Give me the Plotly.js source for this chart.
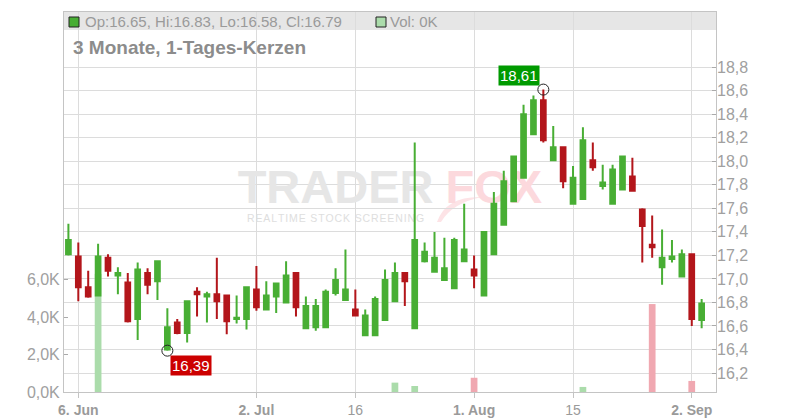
<!DOCTYPE html>
<html><head><meta charset="utf-8">
<script src="https://cdn.plot.ly/plotly-3.0.1.min.js"></script>
<style>html,body{margin:0;padding:0;background:#fff}#chart{width:800px;height:420px}</style>
</head><body><div id="chart"></div>
<script>
const dates = ['2025-06-05','2025-06-06','2025-06-09','2025-06-10','2025-06-11','2025-06-12','2025-06-13','2025-06-16','2025-06-17','2025-06-18',
'2025-06-19','2025-06-20','2025-06-23','2025-06-24','2025-06-25','2025-06-26','2025-06-27','2025-06-30','2025-07-01','2025-07-02',
'2025-07-03','2025-07-04','2025-07-07','2025-07-08','2025-07-09','2025-07-10','2025-07-11','2025-07-14','2025-07-15','2025-07-16',
'2025-07-17','2025-07-18','2025-07-21','2025-07-22','2025-07-23','2025-07-24','2025-07-25','2025-07-28','2025-07-29','2025-07-30',
'2025-07-31','2025-08-01','2025-08-04','2025-08-05','2025-08-06','2025-08-07','2025-08-08','2025-08-11','2025-08-12','2025-08-13',
'2025-08-14','2025-08-15','2025-08-18','2025-08-19','2025-08-20','2025-08-21','2025-08-22','2025-08-25','2025-08-26','2025-08-27',
'2025-08-28','2025-08-29','2025-09-01','2025-09-02','2025-09-03'];
const openP = [17.21,17.19,16.93,16.86,17.18,17.03,16.97,16.66,17.05,16.98,
16.40,16.63,16.54,16.89,16.85,16.87,16.86,16.66,16.66,16.91,
16.74,16.85,16.80,17.05,16.58,16.59,16.59,16.88,16.82,16.74,
16.52,16.52,16.65,16.81,17.05,16.58,17.15,17.06,16.99,16.92,
17.15,17.08,16.86,17.21,17.46,17.66,17.86,18.23,18.52,18.01,
18.12,17.64,17.68,18.01,17.79,17.64,17.76,17.87,17.59,17.29,
17.10,17.17,17.02,17.21,16.65];
const highP = [17.47,17.31,17.07,17.30,17.21,17.10,17.05,17.14,17.09,17.15,
16.75,16.66,16.81,16.93,16.89,17.18,16.86,16.86,16.93,17.11,
16.98,16.97,17.15,17.05,16.85,16.83,16.91,17.09,17.25,16.91,
16.74,16.85,17.08,17.14,17.05,18.16,17.31,17.40,17.35,17.35,
17.64,17.20,17.40,17.74,17.92,18.04,18.48,18.56,18.61,18.30,
18.12,17.96,18.29,18.16,17.97,17.97,18.05,18.03,17.60,17.54,
17.42,17.33,17.25,17.21,16.83];
const lowP = [17.20,16.81,16.84,16.85,17.02,16.87,16.63,16.48,16.87,16.82,
16.39,16.53,16.46,16.68,16.63,16.66,16.53,16.62,16.57,16.73,
16.74,16.71,16.80,16.68,16.58,16.56,16.59,16.86,16.82,16.68,
16.52,16.52,16.65,16.81,16.77,16.58,17.14,17.06,16.99,16.92,
17.15,16.92,16.86,17.21,17.46,17.66,17.86,18.23,18.16,18.01,
17.77,17.64,17.68,17.92,17.76,17.64,17.76,17.75,17.14,17.18,
16.95,17.14,17.02,16.60,16.58];
const closeP = [17.33,16.93,16.85,17.19,17.07,17.05,16.64,17.08,16.95,17.15,
16.59,16.54,16.81,16.87,16.87,16.81,16.64,16.67,16.93,16.76,
16.86,16.96,17.03,16.76,16.77,16.77,16.89,16.99,16.91,16.69,
16.69,16.83,16.99,17.05,16.98,17.33,17.23,17.18,17.09,17.33,
17.25,17.03,17.40,17.64,17.83,18.04,18.40,18.52,18.18,18.12,
17.83,17.86,18.18,17.95,17.82,17.93,18.04,17.75,17.45,17.27,
17.18,17.19,17.21,16.66,16.79];
const volume = [0,0,0,6300,0,0,0,0,0,0,
0,0,0,0,0,0,0,0,0,0,
0,0,0,0,0,0,0,0,0,0,
0,0,0,500,0,320,0,0,0,0,
0,760,0,0,0,0,0,0,0,0,
0,0,270,0,0,0,0,0,0,4690,
0,0,0,590,0];
const xTickVals = ['2025-06-06','2025-07-02','2025-07-16','2025-08-01','2025-08-15','2025-09-02'];
const xTickText = ['<b>6. Jun</b>','<b>2. Jul</b>','16','<b>1. Aug</b>','15','<b>2. Sep</b>'];
const priceTicks = [16.2,16.4,16.6,16.8,17.0,17.2,17.4,17.6,17.8,18.0,18.2,18.4,18.6,18.8];
const volTicks = [0,2000,4000,6000];
const volTickText = ['0,0K','2,0K','4,0K','6,0K'];
const titleText = '3 Monate, 1-Tages-Kerzen';
const volLabel = 'Vol: 0K';
const logoWords = ['TRADER', 'FOX', 'REALTIME STOCK SCREENING'];

const GREEN = '#48ae34', RED = '#b3161b';
const VGREEN = '#abdcab', VRED = '#f0a8b1';
const FONT = 'Liberation Sans, Arial, sans-serif';
const GRAY = '#9a9a9a';

const n = dates.length;
const last = n - 1;
let iMax = 0, iMin = 0;
for (let i = 0; i < n; i++) { if (highP[i] > highP[iMax]) iMax = i; if (lowP[i] < lowP[iMin]) iMin = i; }
const comma = v => v.toFixed(2).replace('.', ',');
const headerText = 'Op:' + openP[last].toFixed(2) + ', Hi:' + highP[last].toFixed(2) + ', Lo:' + lowP[last].toFixed(2) + ', Cl:' + closeP[last].toFixed(2);

// pixel helpers for paper placement (plot area 64..716 x 12..392)
const px = p => (p - 64) / 652;
const py = p => (392 - p) / 380;
const volAt = p => (392 - p) / 37.5 * 2000;
const spaced = s => s.split('').join('\u200A');

const traces = [
  { type: 'bar', x: dates, y: volume, xaxis: 'x', yaxis: 'y', width: 0.68,
    marker: { color: dates.map((d, i) => closeP[i] >= openP[i] ? VGREEN : VRED), line: { width: 0 } },
    hoverinfo: 'skip', showlegend: false },
  { type: 'scatter', mode: 'text', xaxis: 'x', yaxis: 'y',
    x: [dates[27], dates[43]], y: [volAt(191), volAt(191)],
    text: ['<b>' + logoWords[0] + '</b>', '<b>' + logoWords[1] + '</b>'],
    textposition: 'middle center',
    textfont: { family: FONT, size: 47, color: ['#e6e6e6', '#fcd9dd'] },
    hoverinfo: 'skip', showlegend: false },
  { type: 'scatter', mode: 'text', xaxis: 'x', yaxis: 'y',
    x: [dates[27]], y: [volAt(219)],
    text: [spaced(logoWords[2])],
    textposition: 'middle center',
    textfont: { family: FONT, size: 10.5, color: '#dedede' },
    hoverinfo: 'skip', showlegend: false },
  { type: 'candlestick', x: dates, open: openP, high: highP, low: lowP, close: closeP,
    xaxis: 'x', yaxis: 'y2', whiskerwidth: 0,
    increasing: { line: { color: GREEN, width: 2 }, fillcolor: GREEN },
    decreasing: { line: { color: RED, width: 2 }, fillcolor: RED },
    hoverinfo: 'skip', showlegend: false },
  { type: 'scatter', mode: 'markers', xaxis: 'x', yaxis: 'y2',
    x: [dates[iMax], dates[iMin]], y: [highP[iMax], lowP[iMin]],
    marker: { symbol: 'circle-open', size: 11, color: '#222', line: { width: 1 } },
    hoverinfo: 'skip', showlegend: false }
];

const layout = {
  width: 800, height: 420,
  margin: { l: 64, r: 84, t: 12, b: 28, pad: 0, autoexpand: false },
  paper_bgcolor: '#fff', plot_bgcolor: '#fff',
  font: { family: FONT, color: GRAY },
  separators: ',.',
  boxgap: 0.525, boxgroupgap: 0,
  showlegend: false,
  xaxis: {
    type: 'category', range: [-0.446, 65.45], fixedrange: true,
    tickmode: 'array', tickvals: xTickVals, ticktext: xTickText,
    showgrid: true, gridcolor: '#dcdcdc', gridwidth: 1,
    showline: true, linecolor: '#c4c4c4', linewidth: 1, mirror: true,
    ticks: 'outside', ticklen: 5, tickcolor: '#c4c4c4',
    tickfont: { size: 14, color: GRAY, family: FONT },
    rangeslider: { visible: false }
  },
  yaxis: {
    range: [0, volAt(12)], fixedrange: true,
    tickmode: 'array', tickvals: volTicks, ticktext: volTickText,
    showgrid: false, zeroline: false,
    showline: true, linecolor: '#c4c4c4', linewidth: 1, mirror: true,
    ticks: 'inside', ticklen: 4, tickcolor: '#aaaaaa',
    tickfont: { size: 16, color: '#a0a0a0', family: FONT }
  },
  yaxis2: {
    overlaying: 'y', side: 'right', fixedrange: true,
    range: [16.2 - 19 / 117.6, 16.2 + 361 / 117.6],
    tickmode: 'array', tickvals: priceTicks, ticktext: priceTicks.map(v => v.toFixed(1).replace('.', ',')),
    showgrid: true, gridcolor: '#dcdcdc', gridwidth: 1, zeroline: false, showline: false,
    ticks: 'inside', ticklen: 4, tickcolor: '#aaaaaa',
    tickfont: { size: 16, color: '#a0a0a0', family: FONT }
  },
  shapes: [
    { type: 'rect', xref: 'paper', yref: 'paper', x0: 0, x1: 1, y0: py(30), y1: 1,
      fillcolor: '#e6e6e6', line: { width: 0 }, layer: 'below' },
    { type: 'path', xref: 'paper', yref: 'paper', layer: 'below',
      path: 'M ' + px(437) + ' ' + py(222) + ' Q ' + px(446) + ' ' + py(196) + ' ' + px(482) + ' ' + py(197) +
            ' Q ' + px(452) + ' ' + py(203) + ' ' + px(441) + ' ' + py(222) + ' Z',
      fillcolor: '#fde3e6', line: { width: 0 } },
    { type: 'rect', xref: 'paper', yref: 'paper', x0: px(69), x1: px(79), y0: py(27), y1: py(17),
      fillcolor: GREEN, line: { color: '#222', width: 1 } },
    { type: 'rect', xref: 'paper', yref: 'paper', x0: px(376), x1: px(386), y0: py(27), y1: py(17),
      fillcolor: VGREEN, line: { color: '#222', width: 1 } }
  ],
  annotations: [
    { xref: 'paper', yref: 'paper', x: px(83), y: py(21.5), xanchor: 'left', yanchor: 'middle',
      text: headerText, showarrow: false, font: { size: 15, color: GRAY, family: FONT } },
    { xref: 'paper', yref: 'paper', x: px(388), y: py(21.5), xanchor: 'left', yanchor: 'middle',
      text: volLabel, showarrow: false, font: { size: 15, color: GRAY, family: FONT } },
    { xref: 'paper', yref: 'paper', x: px(71), y: py(48), xanchor: 'left', yanchor: 'middle',
      text: '<b>' + titleText + '</b>', showarrow: false, font: { size: 19, color: '#8c8c8c', family: FONT } },
    { xref: 'x', yref: 'y2', x: dates[iMax], y: highP[iMax], xanchor: 'right', yanchor: 'bottom',
      xshift: -3, yshift: 4, text: comma(highP[iMax]), showarrow: false,
      bgcolor: '#009a00', borderpad: 1, font: { size: 15, color: '#fff', family: FONT } },
    { xref: 'x', yref: 'y2', x: dates[iMin], y: lowP[iMin], xanchor: 'left', yanchor: 'top',
      xshift: 3, yshift: -4, text: comma(lowP[iMin]), showarrow: false,
      bgcolor: '#cc0000', borderpad: 1, font: { size: 15, color: '#fff', family: FONT } }
  ]
};

Plotly.newPlot('chart', traces, layout, { displayModeBar: false, staticPlot: true });
</script>
</body></html>
